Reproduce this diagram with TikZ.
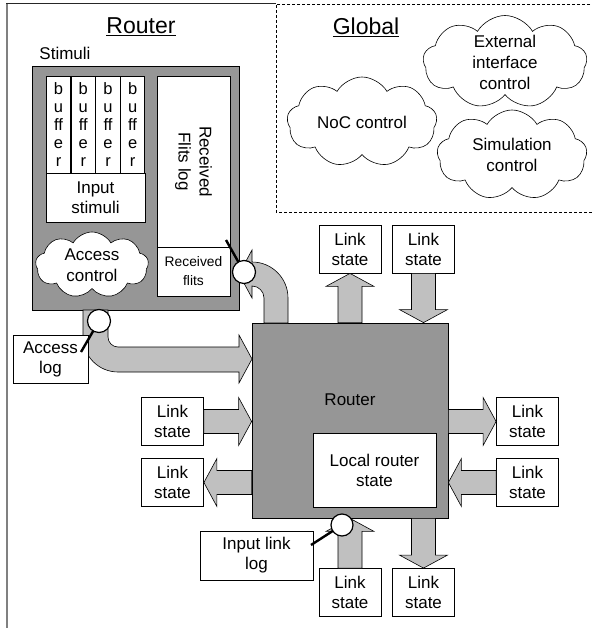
\documentclass[tikz,border=0pt]{standalone}
\usepackage{fontspec}
\setmainfont{Liberation Sans}
\usetikzlibrary{calc,shapes.symbols}
\definecolor{darkfill}{RGB}{150,150,150}
\definecolor{arrowfill}{RGB}{192,192,192}
\definecolor{framegray}{RGB}{128,128,128}
\tikzset{
  box/.style={draw=black, fill=white, line width=0.8pt, align=center, inner sep=0pt,
    font=\fontsize{17}{20}\selectfont},
  graybox/.style={draw=black, fill=darkfill, line width=0.8pt, inner sep=0pt},
  blk/.style={draw=black, fill=arrowfill, line width=0.6pt, line join=miter},
  cloudnode/.style={cloud, cloud puffs=9, cloud puff arc=120, cloud ignores aspect,
    draw=black, fill=white, line width=0.6pt, align=center, inner sep=0pt,
    font=\fontsize{17}{21}\selectfont},
  probe/.style={circle, draw=black, fill=white, line width=1.2pt, minimum size=23pt, inner sep=0pt},
  probeline/.style={line width=2.4pt, black},
  bufbox/.style={box, minimum width=24.5pt, minimum height=97pt, font=\fontsize{16.5}{18}\selectfont},
  title/.style={font=\fontsize{23}{25}\selectfont, inner sep=0pt},
}
\newcommand\barrow[2]{%
  \coordinate (bA) at (#1);
  \coordinate (bB) at (#2);
  \coordinate (bH) at ($(bB)!13pt!(bA)$);
  \draw[blk] ($(bA)!12pt!90:(bB)$) -- ($(bH)!12pt!90:(bB)$) -- ($(bH)!24pt!90:(bB)$)
    -- (bB) -- ($(bH)!24pt!-90:(bB)$) -- ($(bH)!12pt!-90:(bB)$) -- ($(bA)!12pt!-90:(bB)$) -- cycle;
}
\begin{document}
\begin{tikzpicture}[x=1pt,y=-1pt]
\useasboundingbox (0,0) rectangle (591,628);
\fill[white] (0,0) rectangle (591,628);

% frames
\draw[framegray, line width=1.6pt] (7,3) -- (7,632);
\draw[black!85, line width=1pt] (6.2,4) -- (276,4);
\draw[dashed, dash pattern=on 3pt off 2pt, line width=0.8pt] (600,4) -- (276,4) -- (276,212) -- (600,212);

% titles
\node[title] (routertitle) at (141,27) {\underline{Router}};
\node[title] (globaltitle) at (366,27) {\underline{Global}};
\node[font=\fontsize{17}{19}\selectfont, inner sep=0pt] (stimlabel) at (65,53) {Stimuli};

% global clouds
\node[cloudnode, minimum width=164pt, minimum height=93pt] (ext) at (505,62) {External\\interface\\control};
\node[cloudnode, minimum width=150pt, minimum height=90pt] (noc) at (362,122) {NoC control};
\node[cloudnode, minimum width=150pt, minimum height=90pt] (sim) at (512,155) {Simulation\\control};

% stimuli block
\node[graybox, minimum width=207pt, minimum height=244pt] (stim) at (135.5,188) {};
\node[bufbox] (buf1) at (58.5,124.5) {b\\u\\ff\\e\\r};
\node[bufbox] (buf2) at (83.3,124.5) {b\\u\\ff\\e\\r};
\node[bufbox] (buf3) at (108,124.5) {b\\u\\ff\\e\\r};
\node[bufbox] (buf4) at (132.6,124.5) {b\\u\\ff\\e\\r};
\node[box, minimum width=99pt, minimum height=49pt] (instim) at (95.5,197.5) {Input\\stimuli};
\node[box, minimum width=73pt, minimum height=171pt] (rlog) at (193.5,161.5) {};
\node[rotate=-90, align=center, font=\fontsize{17}{21}\selectfont, inner sep=0pt] (rlogtext) at (rlog.center) {Received\\Flits log};
\node[box, minimum width=73pt, minimum height=49pt, font=\fontsize{13.8}{19}\selectfont] (rflits) at (193.5,271.5) {Received\\flits};
\node[cloudnode, minimum width=113pt, minimum height=66pt] (access) at (92,265) {Access\\control};

% router
\node[graybox, minimum width=196pt, minimum height=195pt] (router) at (350,420.5) {};
\node[font=\fontsize{17}{19}\selectfont, inner sep=0pt] (routerlabel) at (350,400) {Router};
\node[box, minimum width=123pt, minimum height=74pt] (local) at (374.5,470) {Local router\\state};

% link state boxes
\node[box, minimum width=62pt, minimum height=48pt] (t1) at (350,249) {Link\\state};
\node[box, minimum width=62pt, minimum height=48pt] (t2) at (423.5,249) {Link\\state};
\node[box, minimum width=62pt, minimum height=48pt] (b1) at (350,592.5) {Link\\state};
\node[box, minimum width=62pt, minimum height=48pt] (b2) at (423.5,592.5) {Link\\state};
\node[box, minimum width=62pt, minimum height=48pt] (l1) at (172.5,421.5) {Link\\state};
\node[box, minimum width=62pt, minimum height=48pt] (l2) at (172.5,482.5) {Link\\state};
\node[box, minimum width=62pt, minimum height=48pt] (r1) at (527.5,421.5) {Link\\state};
\node[box, minimum width=62pt, minimum height=48pt] (r2) at (527.5,482.5) {Link\\state};

% block arrows
\barrow{router.north -| t1}{t1.south}
\barrow{t2.south}{router.north -| t2}
\barrow{l1.east}{router.west |- l1}
\barrow{router.west |- l2}{l2.east}
\barrow{router.east |- r1}{r1.west}
\barrow{r2.west}{router.east |- r2}
\barrow{b1.north}{router.south -| b1}
\barrow{router.south -| b2}{b2.north}

% curved arrow: router -> received flits
\draw[blk] (239,274) -- (252,250) -- (252,262) .. controls (271.9,262) and (288,278.1) .. (288,298)
  -- (288,323) -- (264,323) -- (264,298) .. controls (264,291.4) and (258.6,286) .. (252,286)
  -- (252,298) -- cycle;

% curved arrow: stimuli -> router
\draw[blk] (83,310) -- (83,337) .. controls (83,356.3) and (98.7,372) .. (118,372) -- (239,372)
  -- (239,383) -- (252,359) -- (239,335) -- (239,347) -- (118,347)
  .. controls (112.5,347) and (108,342.5) .. (108,337) -- (108,310) -- cycle;

% log boxes
\node[box, minimum width=75pt, minimum height=48pt] (acclog) at (50.5,359) {Access\\log};
\node[box, minimum width=113pt, minimum height=49pt] (inlog) at (256.5,555.5) {Input link\\log};

% probes
\coordinate (accend) at (81,352);
\coordinate (recend) at (226,240);
\coordinate (inpend) at (311,545);
\coordinate (accpos) at (99,321);
\coordinate (recpos) at (244,272);
\coordinate (inppos) at (342,525);
\draw[probeline] (accend) -- (accpos);
\draw[probeline] (recend) -- (recpos);
\draw[probeline] (inpend) -- (inppos);
\node[probe] (accprobe) at (accpos) {};
\node[probe] (recprobe) at (recpos) {};
\node[probe, minimum size=22pt] (inpprobe) at (inppos) {};
\end{tikzpicture}
\end{document}
